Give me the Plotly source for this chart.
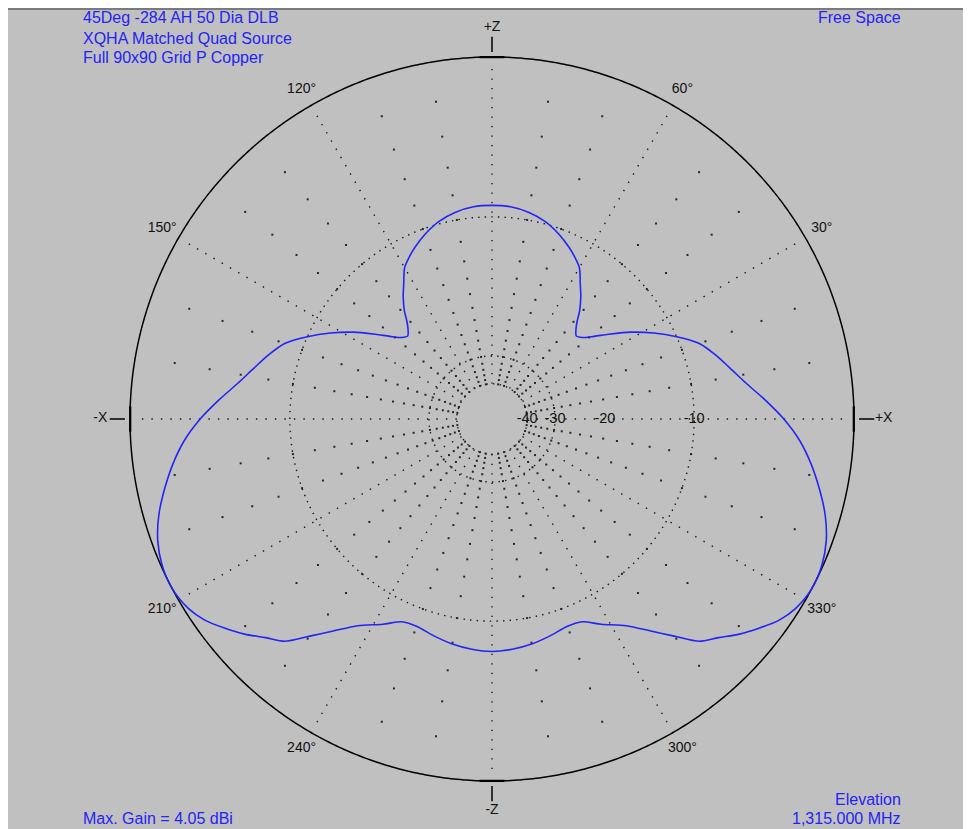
import numpy as np
import plotly.graph_objects as go

# ---------------- data ----------------
max_gain_dbi = 4.05

# elevation angle (deg, 0 = +X, counter-clockwise) and gain relative to max (dB)
theta_deg = [0, 4, 8, 12, 16, 20, 24, 28, 32, 36, 39, 42, 44.5, 47, 49, 51, 54, 57,
             60, 63, 66, 70, 75, 80, 85, 90, 95, 100, 105, 110, 114, 117, 120, 123,
             126, 129, 131, 133, 135.5, 138, 141, 144, 148, 152, 156, 160, 164, 168,
             172, 176, 180, 184, 188, 192, 196, 200, 204, 208, 212, 215, 218, 221,
             224, 227, 230, 233, 237, 242, 246, 250, 255, 260, 265, 270, 275, 280,
             285, 290, 294, 298, 303, 307, 310, 313, 316, 319, 322, 325, 328, 332,
             336, 340, 344, 348, 352, 356, 360]
rel_gain_db = [-3.7, -4.8, -5.9, -6.8, -7.6, -8.5, -10.0, -11.7, -13.6, -15.8, -17.4,
               -18.7, -19.2, -18.5, -17.6, -16.4, -15.0, -13.8, -12.5, -11.8, -11.2,
               -10.5, -9.8, -9.35, -9.1, -9.05, -9.1, -9.35, -9.8, -10.5, -11.2, -11.8,
               -12.5, -13.8, -15.0, -16.4, -17.6, -18.5, -19.2, -18.7, -17.4, -15.8,
               -13.6, -11.7, -10.0, -8.5, -7.6, -6.8, -5.9, -4.8, -3.7, -2.75, -2.0,
               -1.35, -0.75, -0.3, -0.05, 0.0, -0.2, -0.55, -1.1, -1.7, -2.4, -3.0,
               -4.2, -5.3, -6.6, -7.6, -8.4, -8.5, -8.2, -7.9, -7.7, -7.6, -7.7, -7.9,
               -8.2, -8.5, -8.4, -7.6, -6.6, -5.3, -4.2, -3.0, -2.4, -1.7, -1.1, -0.55,
               -0.2, 0.0, -0.05, -0.3, -0.75, -1.35, -2.0, -2.75, -3.7]

ring_db = [-10, -20, -30, -40]
ring_labels = ["-10", "-20", "-30", "-40"]
angle_ticks = [30, 60, 120, 150, 210, 240, 300, 330]
cardinal_angles = [0, 90, 180, 270]
cardinal_labels = ["+X", "+Z", "-X", "-Z"]


def arrl(db):
    """ARRL log scale: radius factor 0.89 per 2 dB."""
    return 0.89 ** (-np.asarray(db, dtype=float) / 2.0)


# ---------------- figure ----------------
# page body has an 8px margin, so figure pixel = screen pixel - 8
W, H = 963, 821
CX, CY, R = 484, 411, 362
RMAX = 1.1                      # radial axis range; outer circle drawn at r = 1
RP = R * RMAX                   # pixel radius of the polar domain
BLUE = "#2424f4"
FONT = "Liberation Sans, Arial, sans-serif"
DOT = "#161616"

fig = go.Figure()

# dense dotted rings at -10, -30, -40
th = np.linspace(0, 360, 721)
for db in [-10, -30, -40]:
    fig.add_trace(go.Scatterpolar(
        r=np.full_like(th, arrl(db)), theta=th, mode="lines",
        line=dict(color=DOT, width=1.4, dash="1.4px,5.2px"),
        hoverinfo="skip", showlegend=False))

# dense dotted spokes every 30 deg
for a in range(0, 360, 30):
    fig.add_trace(go.Scatterpolar(
        r=[arrl(-40), 0.975], theta=[a, a], mode="lines",
        line=dict(color=DOT, width=1.4, dash="1.4px,8.1px"),
        hoverinfo="skip", showlegend=False))

# sparse dots: every 2 dB on the 10-degree spokes
dot_r, dot_t = [], []
for a in range(0, 360, 10):
    if a % 30 == 0:
        continue
    for k in range(1, 21):
        dot_r.append(0.89 ** k)
        dot_t.append(a)
fig.add_trace(go.Scatterpolar(
    r=dot_r, theta=dot_t, mode="markers",
    marker=dict(color="#262626", size=2, symbol="square", line=dict(width=0)),
    hoverinfo="skip", showlegend=False))

# outer circle (0 dB)
fig.add_trace(go.Scatterpolar(
    r=np.ones_like(th), theta=th, mode="lines",
    line=dict(color="black", width=1.5), hoverinfo="skip", showlegend=False))

# cardinal ticks (outside) and tangent bars on the circle
for a in cardinal_angles:
    fig.add_trace(go.Scatterpolar(
        r=[1.014, 1.056], theta=[a, a], mode="lines",
        line=dict(color="black", width=1.5), hoverinfo="skip", showlegend=False))
    fig.add_trace(go.Scatterpolar(
        r=[1.0, 1.0], theta=[a - 2, a + 2], mode="lines",
        line=dict(color="black", width=2.2), hoverinfo="skip", showlegend=False))

# pattern
fig.add_trace(go.Scatterpolar(
    r=arrl(rel_gain_db), theta=theta_deg, mode="lines",
    line=dict(color=BLUE, width=1.6, shape="spline", smoothing=0.8),
    hoverinfo="skip", showlegend=False))

# angle labels
fig.add_trace(go.Scatterpolar(
    r=[1.052] * len(angle_ticks), theta=angle_ticks, mode="text",
    text=[f"{a}°" for a in angle_ticks], textposition="middle center",
    textfont=dict(family=FONT, size=14, color="#111111"),
    hoverinfo="skip", showlegend=False))

# cardinal labels
fig.add_trace(go.Scatterpolar(
    r=[1.082] * 4, theta=cardinal_angles, mode="text",
    text=cardinal_labels, textposition="middle center",
    textfont=dict(family=FONT, size=14, color="#111111"),
    hoverinfo="skip", showlegend=False))

# ring labels
fig.add_trace(go.Scatterpolar(
    r=arrl(ring_db), theta=[0] * len(ring_db), mode="text",
    text=ring_labels, textposition="middle center",
    textfont=dict(family=FONT, size=14.5, color="#111111"),
    hoverinfo="skip", showlegend=False))

fig.update_layout(
    width=W, height=H, autosize=False,
    margin=dict(l=0, r=0, t=0, b=0),
    paper_bgcolor="#c0c0c0", plot_bgcolor="#c0c0c0",
    showlegend=False,
    polar=dict(
        domain=dict(x=[(CX - RP) / W, (CX + RP) / W],
                    y=[1 - (CY + RP) / H, 1 - (CY - RP) / H]),
        bgcolor="rgba(0,0,0,0)",
        radialaxis=dict(range=[0, RMAX], visible=False, showgrid=False),
        angularaxis=dict(rotation=0, direction="counterclockwise",
                         showgrid=False, showticklabels=False, ticks="",
                         showline=False),
    ),
)

# window frame line at the top
fig.add_shape(type="line", xref="paper", yref="paper", x0=0, x1=1,
              y0=1 - 1 / H, y1=1 - 1 / H, line=dict(color="#7a7a7a", width=2), layer="above")


def note(text, xpx, ypx, anchor):
    fig.add_annotation(text=text, x=(xpx - 8) / W, y=1 - (ypx - 8) / H,
                       xref="paper", yref="paper",
                       xanchor=anchor, yanchor="middle", showarrow=False,
                       font=dict(family=FONT, size=16, color=BLUE))


note("45Deg -284 AH 50 Dia DLB", 81, 18, "left")
note("XQHA Matched Quad Source", 81, 38, "left")
note("Full 90x90 Grid P Copper", 81, 58, "left")
note("Free Space", 903, 18, "right")
note("Max. Gain = 4.05 dBi", 81, 818, "left")
note("Elevation", 903, 799, "right")
note("1,315.000 MHz", 903, 818, "right")

fig.write_html("out.html")
